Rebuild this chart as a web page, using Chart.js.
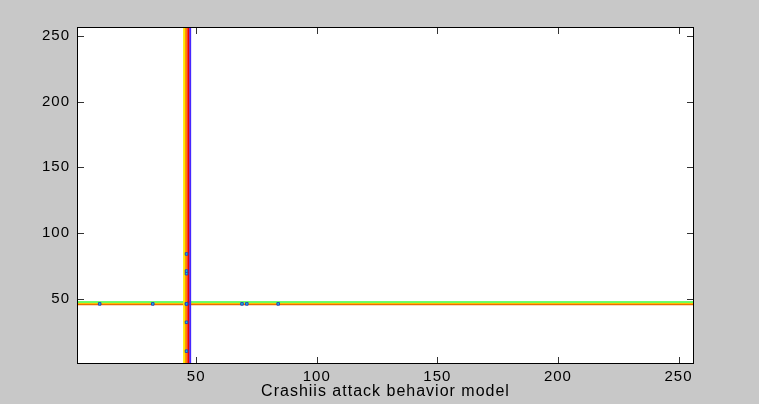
<!DOCTYPE html>
<html>
<head>
<meta charset="utf-8">
<script src="https://cdn.jsdelivr.net/npm/chart.js@4.4.1/dist/chart.umd.min.js"></script>
<style>
  html, body { margin: 0; padding: 0; background: rgb(200, 200, 200); }
  #wrap { width: 759px; height: 404px; }
</style>
</head>
<body>
<div id="wrap"><canvas id="behavior" width="759" height="404"></canvas></div>
<script>
// axis range and tick labels
var axisMin = 1, axisMax = 256;
var tickValues = [50, 100, 150, 200, 250];

// byte value 46 ('.') dominates both coordinates -> dense stripes
var stripeX = [45.0, 45.8, 46.7, 47.5];
var stripeXColors = ['rgb(255, 230, 0)', 'rgb(255, 130, 0)', 'rgb(240, 0, 0)', 'rgb(70, 40, 255)'];
var stripeY = [47.4, 46.4, 45.4];
var stripeYColors = ['rgb(60, 255, 60)', 'rgb(255, 190, 0)', 'rgb(235, 110, 0)'];

// sparse pairs sitting on the stripes
var crossValue = 46;
var markValues = [10, 32, 69, 71, 84, 46];

var datasets = [];
stripeX.forEach(function (x, i) {
  datasets.push({
    data: [{x: x, y: axisMin}, {x: x, y: axisMax}],
    showLine: true, pointRadius: 0,
    borderColor: stripeXColors[i], borderWidth: 2
  });
});
stripeY.forEach(function (y, i) {
  datasets.push({
    data: [{x: axisMin, y: y}, {x: axisMax, y: y}],
    showLine: true, pointRadius: 0,
    borderColor: stripeYColors[i], borderWidth: 1.4
  });
});
datasets.push({
  order: -1,
  data: markValues.map(function (v) { return {x: crossValue, y: v}; })
    .concat(markValues.map(function (v) { return {x: v, y: crossValue}; })),
  pointStyle: 'rect', pointRadius: 1.8,
  backgroundColor: 'rgb(0, 215, 230)', borderColor: 'rgb(40, 60, 190)', borderWidth: 1
});

var FONT = {family: '"Liberation Sans", Arial, sans-serif', size: 15};
var TITLE_FONT = {family: '"Liberation Sans", Arial, sans-serif', size: 16};

// white plot box, black frame and inward tick marks on all four sides
var boxPlugin = {
  id: 'box',
  beforeDraw: function (chart) {
    var a = chart.chartArea, ctx = chart.ctx;
    ctx.save();
    ctx.fillStyle = '#fff';
    ctx.fillRect(a.left, a.top, a.right - a.left, a.bottom - a.top);
    ctx.restore();
    ctx.letterSpacing = '1px';
  },
  afterDraw: function (chart) {
    var a = chart.chartArea, ctx = chart.ctx;
    var xs = chart.scales.x, ys = chart.scales.y, len = 6;
    ctx.save();
    ctx.strokeStyle = '#000';
    ctx.lineWidth = 1;
    ctx.strokeRect(Math.round(a.left) - 0.5, Math.round(a.top) - 0.5,
      Math.round(a.right - a.left) + 1, Math.round(a.bottom - a.top) + 1);
    ctx.strokeStyle = '#333';
    ctx.beginPath();
    tickValues.forEach(function (v) {
      var px = Math.round(xs.getPixelForValue(v)) + 0.5;
      ctx.moveTo(px, a.bottom); ctx.lineTo(px, a.bottom - len);
      ctx.moveTo(px, a.top); ctx.lineTo(px, a.top + len);
      var py = Math.round(ys.getPixelForValue(v)) + 0.5;
      ctx.moveTo(a.left, py); ctx.lineTo(a.left + len, py);
      ctx.moveTo(a.right, py); ctx.lineTo(a.right - len, py);
    });
    ctx.stroke();
    ctx.restore();
  }
};

function fixedTicks(scale) {
  scale.ticks = tickValues.map(function (v) { return {value: v}; });
}

var chart = new Chart(document.getElementById('behavior'), {
  type: 'scatter',
  data: {datasets: datasets},
  options: {
    responsive: false,
    animation: false,
    layout: {padding: {top: 28, right: 66, left: 0, bottom: 0}},
    plugins: {legend: {display: false}, tooltip: {enabled: false}},
    scales: {
      x: {
        type: 'linear', min: axisMin, max: axisMax,
        afterBuildTicks: fixedTicks,
        afterFit: function (s) { s.height = 41; },
        grid: {display: false, drawTicks: false},
        border: {display: false},
        ticks: {color: '#000', font: FONT, padding: 5, maxRotation: 0},
        title: {display: true, text: 'Crashiis attack behavior model', color: '#000', font: TITLE_FONT, padding: 3}
      },
      y: {
        type: 'linear', min: axisMin, max: axisMax,
        afterBuildTicks: fixedTicks,
        afterFit: function (s) { s.width = 78; },
        grid: {display: false, drawTicks: false},
        border: {display: false},
        ticks: {color: '#000', font: FONT, padding: 8}
      }
    }
  },
  plugins: [boxPlugin]
});
</script>
</body>
</html>
